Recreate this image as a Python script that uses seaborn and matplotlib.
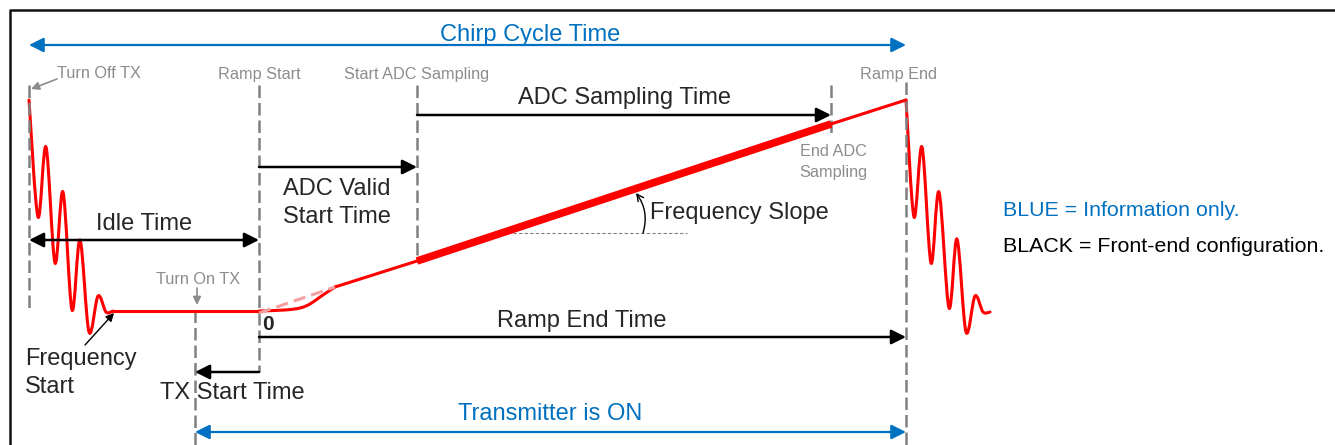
import numpy as np
import pandas as pd
import matplotlib
matplotlib.use("Agg")
import matplotlib.pyplot as plt
from matplotlib.path import Path
from matplotlib.patches import PathPatch
import seaborn as sns

sns.set_theme(style="white")
plt.rcParams['font.family'] = ['Liberation Sans', 'DejaVu Sans']

# event positions on the time axis (pixel-like drawing units)
t_turn_off = 29
t_turn_on = 195
t_ramp_start = 259
t_adc_start = 417
t_adc_end = 831
t_ramp_end = 906

# frequency trace (drawing units, y grows downward)
settle_in_x = [29, 38, 46, 55, 63, 72, 80, 89, 98, 106, 113, 259]
settle_in_y = [100, 217, 147, 263, 192, 310, 240, 332, 296, 312, 311, 311]
ramp_knee_x = [259, 285, 300, 310, 320, 335]
ramp_knee_y = [311, 310, 308, 304, 297, 287]
ramp_x = [335, 417, 831, 906]
ramp_y = [287, 261, 124, 100]
settle_out_x = [906, 914, 922, 931, 939, 949, 957, 966, 975, 983, 990]
settle_out_y = [100, 217, 147, 263, 192, 308, 239, 332, 296, 312, 312]

BLUE = '#0070C0'
GRAY = '#8C8C8C'
RED = '#FF0000'

fig = plt.figure(figsize=(13.35, 4.45), dpi=100)
ax = fig.add_axes([0, 0, 1, 1])
ax.set_xlim(0, 1335)
ax.set_ylim(445, 0)
ax.axis('off')

# frame
ax.plot([10, 10, 1335], [445, 10, 10], color='#111111', lw=1.8)

# dashed event markers
dash_kw = dict(color='#808080', lw=1.8, dashes=(5, 2))
ax.plot([t_turn_off] * 2, [85, 312], **dash_kw)
ax.plot([t_ramp_start] * 2, [85, 372], **dash_kw)
ax.plot([t_adc_start] * 2, [85, 262], **dash_kw)
ax.plot([t_adc_end] * 2, [85, 137], **dash_kw)
ax.plot([t_ramp_end] * 2, [82, 445], **dash_kw)
ax.plot([t_turn_on] * 2, [310, 445], **dash_kw)


def smooth_curve(xs, ys, lw):
    # Catmull-Rom through the read points, drawn as cubic Bezier pieces
    p = np.column_stack([xs, ys]).astype(float)
    verts = [p[0]]
    codes = [Path.MOVETO]
    for i in range(len(p) - 1):
        p0 = p[i - 1] if i > 0 else p[i]
        p3 = p[i + 2] if i + 2 < len(p) else p[i + 1]
        c1 = p[i] + (p[i + 1] - p0) / 6
        c2 = p[i + 1] - (p3 - p[i]) / 6
        verts += [c1, c2, p[i + 1]]
        codes += [Path.CURVE4] * 3
    ax.add_patch(PathPatch(Path(verts, codes), fill=False, edgecolor=RED,
                           lw=lw, capstyle='round', joinstyle='round'))


def trace(xs, ys, lw, **kw):
    d = pd.DataFrame({'x': xs, 'y': ys})
    sns.lineplot(data=d, x='x', y='y', sort=False, estimator=None,
                 color=RED, lw=lw, ax=ax, **kw)


# red frequency trace
smooth_curve(settle_in_x[:-1], settle_in_y[:-1], 2.2)
trace(settle_in_x[-2:], settle_in_y[-2:], 2.2)
smooth_curve(ramp_knee_x, ramp_knee_y, 2.2)
trace(ramp_x, ramp_y, 2.2)
trace(ramp_x[1:3], ramp_y[1:3], 5.5, solid_capstyle='butt')
smooth_curve(settle_out_x, settle_out_y, 2.2)
ax.plot([t_ramp_start, ramp_x[0]], [313, ramp_y[0]], color='#F4A0A0', lw=2.2,
        dashes=(4, 2))
ax.set_xlabel('')
ax.set_ylabel('')


def arrow(x0, y0, x1, y1, color='black', style='-|>', lw=1.8, ms=22):
    ax.annotate('', xy=(x1, y1), xytext=(x0, y0),
                arrowprops=dict(arrowstyle=style, color=color, lw=lw,
                                mutation_scale=ms, shrinkA=0, shrinkB=0))


BIG = 17
SMALL = 11.7
dy = 2  # nudge for text baselines

# blue information arrows
arrow(t_turn_off, 45, t_ramp_end, 45, color=BLUE, style='<|-|>', lw=1.6)
ax.text(530, 33 + dy, 'Chirp Cycle Time', color=BLUE, fontsize=BIG, ha='center', va='center')
arrow(t_turn_on, 432, t_ramp_end, 432, color=BLUE, style='<|-|>', lw=1.6)
ax.text(550, 412 + dy, 'Transmitter is ON', color=BLUE, fontsize=BIG, ha='center', va='center')

# black configuration arrows
arrow(t_turn_off, 240, t_ramp_start, 240, style='<|-|>')
ax.text(144, 222 + dy, 'Idle Time', fontsize=BIG, ha='center', va='center')
arrow(t_ramp_start, 167, t_adc_start, 167)
ax.text(283, 187 + dy, 'ADC Valid', fontsize=BIG, ha='left', va='center')
ax.text(283, 215 + dy, 'Start Time', fontsize=BIG, ha='left', va='center')
arrow(t_adc_start, 115, t_adc_end, 115)
ax.text(624, 96 + dy, 'ADC Sampling Time', fontsize=BIG, ha='center', va='center')
arrow(t_ramp_start, 337, t_ramp_end, 337)
ax.text(582, 319 + dy, 'Ramp End Time', fontsize=BIG, ha='center', va='center')
arrow(t_ramp_start, 372, t_turn_on, 372)
ax.text(160, 391 + dy, 'TX Start Time', fontsize=BIG, ha='left', va='center')
ax.text(262, 323 + dy, '0', fontsize=15, fontweight='bold', ha='left', va='center')

ax.text(25, 357 + dy, 'Frequency', fontsize=BIG, ha='left', va='center')
ax.text(25, 385 + dy, 'Start', fontsize=BIG, ha='left', va='center')
arrow(85, 345, 114, 313, lw=1.0, ms=12)

# frequency slope
ax.plot([513, 687], [233, 233], color='#808080', lw=0.8, dashes=(3, 2))
ax.annotate('', xy=(636, 193), xytext=(643, 233),
            arrowprops=dict(arrowstyle='->', color='black', lw=1.0,
                            connectionstyle='arc3,rad=0.25', shrinkA=0, shrinkB=0))
ax.text(650, 211 + dy, 'Frequency Slope', fontsize=BIG, ha='left', va='center')

# gray event labels
ax.text(57, 72 + dy, 'Turn Off TX', color=GRAY, fontsize=SMALL, ha='left', va='center')
arrow(57, 79, 31, 89, color=GRAY, lw=1.2, ms=12)
ax.text(t_ramp_start, 72 + dy, 'Ramp Start', color=GRAY, fontsize=SMALL, ha='center', va='center')
ax.text(t_adc_start, 72 + dy, 'Start ADC Sampling', color=GRAY, fontsize=SMALL, ha='center', va='center')
ax.text(898, 72 + dy, 'Ramp End', color=GRAY, fontsize=SMALL, ha='center', va='center')
ax.text(833, 150 + dy, 'End ADC', color=GRAY, fontsize=SMALL, ha='center', va='center')
ax.text(833, 170 + dy, 'Sampling', color=GRAY, fontsize=SMALL, ha='center', va='center')
ax.text(198, 277 + dy, 'Turn On TX', color=GRAY, fontsize=SMALL, ha='center', va='center')
arrow(197, 288, 197, 305, color=GRAY, lw=1.2, ms=12)

# colour key
ax.text(1003, 208 + dy, 'BLUE = Information only.', color=BLUE, fontsize=15.4, ha='left', va='center')
ax.text(1003, 245 + dy, 'BLACK = Front-end configuration.', color='black', fontsize=15.4,
        ha='left', va='center')

fig.savefig('out.png', dpi=100)
